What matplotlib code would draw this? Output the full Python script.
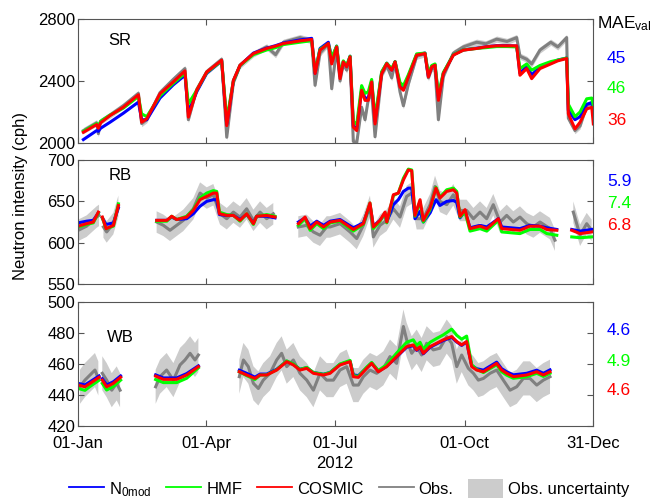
import numpy as np
import matplotlib
matplotlib.use("Agg")
import matplotlib.pyplot as plt
from matplotlib.lines import Line2D
from matplotlib.patches import Patch

plt.rcParams['font.family'] = ['Liberation Sans', 'DejaVu Sans']
plt.rcParams['mathtext.default'] = 'regular'
plt.rcParams['font.size'] = 12

nan = np.nan

# x values are day of year 2012 (0 = 01-Jan); nan marks a data gap
# ---- SR ----
sr_day = [3.8, 13.2, 14.4, 16.0, 22.7, 32.1, 42.8, 45.1, 48.7, 58.1, 67.5, 75.8, 78.2, 84.1, 91.2,
          101.8, 105.4, 110.1, 114.8, 124.3, 133.7, 140.0, 145.5, 157.3, 165.6, 168.0, 171.5, 177.4,
          179.8, 183.3, 185.7, 188.0, 190.4, 192.8, 195.1, 197.5, 201.0, 203.4, 205.7, 208.1, 210.5,
          215.2, 218.8, 222.3, 224.7, 228.2, 230.6, 234.1, 240.0, 245.9, 248.3, 250.7, 253.0, 255.4,
          258.9, 266.0, 273.1, 282.5, 289.0, 296.7, 304.0, 310.9, 313.2, 318.0, 321.5, 327.4, 335.0,
          340.0, 346.3, 347.5, 352.2, 355.8, 360.5, 364.1, 365.2]
sr_cosmic = [2069, 2119, 2095, 2130, 2177, 2231, 2311, 2134, 2156, 2318, 2394, 2465, 2167, 2340, 2458,
             2534, 2112, 2404, 2502, 2577, 2610, 2625, 2642, 2659, 2668, 2448, 2599, 2642, 2510, 2620,
             2415, 2523, 2491, 2556, 2102, 2080, 2340, 2275, 2275, 2394, 2123, 2448, 2512, 2469, 2523,
             2361, 2340, 2426, 2567, 2577, 2426, 2491, 2502, 2275, 2448, 2567, 2599, 2610, 2620, 2627,
             2627, 2627, 2437, 2480, 2415, 2480, 2510, 2530, 2545, 2188, 2091, 2134, 2220, 2230, 2123]
sr_hmf = [2075, 2125, 2110, 2140, 2180, 2225, 2300, 2188, 2170, 2305, 2385, 2450, 2253, 2340, 2455,
          2530, 2150, 2400, 2500, 2570, 2600, 2615, 2635, 2650, 2660, 2460, 2605, 2640, 2550, 2625,
          2440, 2530, 2500, 2560, 2140, 2120, 2370, 2320, 2330, 2410, 2160, 2460, 2515, 2480, 2525,
          2390, 2370, 2440, 2575, 2580, 2450, 2500, 2510, 2310, 2455, 2570, 2600, 2610, 2615, 2622,
          2622, 2620, 2480, 2510, 2470, 2500, 2525, 2535, 2548, 2250, 2170, 2200, 2285, 2290, 2240]
sr_n0mod = [2022, 2080, 2075, 2095, 2134, 2192, 2264, 2150, 2150, 2290, 2375, 2437, 2200, 2330, 2450,
            2530, 2120, 2400, 2500, 2580, 2612, 2628, 2645, 2665, 2675, 2450, 2610, 2650, 2545, 2625,
            2430, 2525, 2495, 2560, 2110, 2090, 2345, 2290, 2290, 2400, 2140, 2455, 2515, 2470, 2525,
            2370, 2345, 2430, 2570, 2580, 2430, 2495, 2505, 2290, 2450, 2570, 2600, 2612, 2620, 2628,
            2628, 2625, 2450, 2495, 2440, 2490, 2515, 2535, 2548, 2210, 2150, 2170, 2250, 2260, 2200]
sr_obs = [2080, 2130, 2060, 2140, 2180, 2240, 2320, 2125, 2150, 2325, 2410, 2480, 2150, 2345, 2460,
          2540, 2037, 2390, 2500, 2575, 2620, 2570, 2650, 2680, 2660, 2372, 2580, 2640, 2350, 2615,
          2400, 2510, 2470, 2540, 2010, 2000, 2230, 2150, 2280, 2330, 2040, 2440, 2500, 2420, 2520,
          2330, 2240, 2380, 2560, 2575, 2420, 2480, 2480, 2150, 2430, 2580, 2620, 2650, 2640, 2670,
          2655, 2680, 2560, 2540, 2510, 2600, 2650, 2620, 2680, 2160, 2080, 2110, 2240, 2260, 2200]
sr_obs_day = sr_day
sr_unc = 20

# ---- RB ----
rb_day = [0, 6.1, 10.8, 14.4, 16, 17.2, 19.9, 25.1, 28.6, 40, 55.8, 62.9, 66.4, 69.9, 77.0, 81.7,
          86.4, 91.2, 95.9, 98.3, 100.2, 105.4, 110.1, 114.8, 119.5, 124.3, 126.6, 133.7, 139.6, 148,
          156.2, 160.9, 164.5, 169.2, 174.0, 178.7, 185.7, 195.1, 202.2, 206.9, 209.3, 214.0, 217.6,
          218.8, 223.5, 227.0, 230.6, 234.1, 236.5, 238.8, 242.4, 244.7, 249.5, 253.7, 256.5, 261.3,
          266.0, 268.4, 270.7, 274.3, 277.8, 284.9, 289.7, 297.9, 300.3, 313.2, 320.3, 327.4, 332.2,
          339.3, 345, 349.9, 355.8, 364.1]
rb_cosmic = [620, 623, 625, 637, nan, 631, 617, 621, 645, nan, 627, 627, 632, 628, 631, 639, 652, 656,
             660, 660, 635, 633, 633, 627, 635, 623, 632, 633, 631, nan, 623, 631, 617, 625, 619, 625,
             627, 616, 623, 648, 619, 627, 637, 625, 658, 660, 676, 688, 687, 633, 652, 627, 642, 666,
             654, 662, 664, 660, 632, 640, 617, 620, 617, 629, 617, 615, 620, 620, 616, 615, nan, 615,
             611, 613]
rb_hmf = [619, 622, 624, 636, nan, 630, 617, 620, 647, nan, 626, 626, 632, 628, 632, 640, 654, 660,
          663, 662, 637, 634, 633, 626, 635, 622, 632, 634, 632, nan, 621, 629, 615, 623, 617, 624,
          626, 614, 622, 648, 617, 626, 636, 624, 657, 660, 678, 689, 688, 632, 650, 625, 640, 667,
          655, 664, 666, 662, 631, 637, 614, 617, 614, 627, 613, 611, 616, 616, 611, 609, nan, 607,
          606, 607]
rb_n0mod = [624, 626, 627, 636, nan, 630, 622, 624, 642, nan, 627, 627, 631, 628, 629, 635, 644, 650,
            652, 652, 634, 633, 633, 628, 634, 624, 632, 632, 630, nan, 625, 630, 620, 626, 621, 626,
            628, 618, 624, 646, 620, 627, 635, 625, 646, 652, 662, 666, 666, 629, 638, 625, 636, 652,
            645, 650, 651, 649, 630, 638, 618, 621, 619, 629, 619, 617, 621, 620, 618, 616, nan, 616,
            614, 616]
rb_obs_day = [0.2, 6.1, 13.2, 14.9, 16, 18.0, 20.3, 25.0, 28.6, 40, 55.7, 60.5, 65.2, 69.9, 74.6, 81.7,
              86.5, 91.2, 95.9, 100.6, 105.4, 110.1, 114.8, 119.5, 124.3, 129.0, 133.7, 138.4, 148,
              156.1, 162.0, 166.8, 171.5, 176.2, 178.6, 185.7, 192.8, 197.5, 202.2, 206.9, 209.3,
              214.0, 218.7, 223.5, 228.2, 232.9, 236.5, 240.0, 244.7, 249.5, 253.0, 256.5, 261.3,
              266.0, 270.7, 275.4, 280.2, 284.9, 289.6, 294.3, 299.1, 303.8, 308.5, 313.2, 318.0,
              322.7, 327.4, 334.5, 338.0, 345, 351.0, 355.8, 360.5, 364.0]
rb_obs = [615, 620, 631, 633, nan, 619, 613, 623, 644, nan, 625, 621, 615, 621, 627, 641, 660, 654,
          658, 635, 629, 637, 631, 641, 627, 637, 629, 635, nan, 619, 621, 613, 609, 619, 619, 623,
          613, 605, 621, 644, 607, 621, 627, 641, 631, 656, 660, 629, 629, 646, 668, 650, 646, 658,
          639, 639, 629, 637, 629, 646, 625, 633, 625, 631, 623, 619, 625, 617, 603, nan, 637, 609,
          623, 615]
rb_unc = 13

# ---- WB ----
wb_day = [0.2, 4.9, 8.5, 14.9, 16, 17.2, 20.3, 25.0, 30.2, 40, 55.0, 60.5, 69.9, 77.0, 85.3, 100,
          114.3, 119.5, 125.4, 129.0, 133.7, 140.8, 147.9, 152.6, 157.3, 162.1, 166.8, 173.9, 178.6,
          185.7, 192.8, 195.1, 198.7, 204.6, 208.1, 212.8, 218.7, 225.8, 232.9, 237.6, 240.0, 242.4,
          244.7, 249.5, 254.2, 258.9, 264.8, 268.4, 271.9, 275.4, 279.0, 282.5, 287.3, 296.7, 300.2,
          303.8, 308.5, 318.0, 325.1, 329.8, 334.5]
wb_cosmic = [446.4, 445.3, 447.5, 451.4, nan, 449.6, 445.3, 447.5, 451.4, nan, 452.2, 450.1, 450.1,
             452.9, 458.3, nan, 455.0, 452.9, 450.7, 452.9, 452.9, 456.1, 461.5, 459.4, 456.1, 457.2,
             454.0, 452.9, 454.0, 459.4, 461.5, 451.8, 451.4, 457.2, 460.4, 455.0, 458.3, 464.8,
             471.2, 472.3, 469.1, 471.2, 466.9, 471.2, 473.4, 475.6, 477.7, 474.5, 472.3, 474.5,
             458.3, 456.1, 455.0, 460.4, 456.1, 454.0, 451.8, 452.9, 455.0, 452.9, 455.0]
wb_hmf = [444.2, 443.0, 445.5, 449.5, nan, 447.5, 443.2, 445.5, 449.6, nan, 450.0, 448.0, 448.0,
          450.8, 457.5, nan, 455.0, 452.5, 450.0, 452.8, 453.0, 456.3, 462.0, 460.0, 456.5, 457.8,
          454.5, 453.3, 454.5, 460.0, 462.3, 452.5, 452.0, 458.0, 461.0, 455.8, 459.5, 467.0, 474.0,
          475.6, 472.0, 474.0, 469.5, 474.0, 476.5, 478.8, 482.5, 478.5, 476.0, 478.0, 459.5, 456.5,
          454.5, 459.5, 455.0, 452.8, 450.8, 451.8, 454.0, 452.0, 454.0]
wb_n0mod = [447.5, 446.5, 448.5, 452.3, nan, 450.5, 446.5, 448.5, 452.3, nan, 453.0, 451.0, 451.0,
            453.8, 458.8, nan, 456.0, 454.0, 451.5, 453.5, 453.5, 456.6, 461.8, 459.8, 456.6, 457.6,
            454.5, 453.4, 454.5, 459.8, 461.8, 453.0, 452.5, 457.6, 460.6, 455.4, 458.5, 464.6,
            470.8, 471.8, 468.8, 470.8, 466.6, 470.8, 473.0, 475.2, 477.2, 474.2, 472.0, 474.2,
            459.0, 457.0, 456.0, 461.2, 457.0, 455.0, 453.0, 454.0, 456.0, 454.0, 456.2]
wb_obs_day = [1.4, 4.9, 8.5, 12.0, 14.4, 16, 17.2, 20.3, 23.9, 27.4, 29.8, 40, 55.0, 58.1, 62.8, 67.6,
              72.3, 75.8, 79.4, 82.9, 85.3, 100, 114.3, 117.2, 120.7, 124.3, 127.8, 131.3, 136.1,
              140.8, 144.3, 147.9, 152.6, 157.3, 162.1, 166.8, 171.5, 176.2, 181.0, 185.7, 190.4,
              195.1, 198.7, 202.2, 206.9, 211.7, 216.4, 221.1, 225.8, 230.6, 232.9, 236.5, 240.0,
              243.5, 247.1, 251.8, 256.5, 261.3, 264.8, 268.4, 271.9, 276.6, 280.2, 283.7, 287.3,
              292.0, 296.7, 301.4, 306.2, 310.9, 315.6, 320.3, 325.1, 329.8, 334.5]
wb_obs = [445.3, 449.6, 452.9, 456.1, 450.7, nan, 454.0, 449.6, 443.1, 447.5, 443.1, nan, 445.3,
          451.8, 456.1, 449.6, 459.4, 462.6, 466.9, 462.6, 465.8, nan, 451.8, 462.6, 458.3, 447.5,
          444.2, 449.6, 454.0, 462.6, 466.9, 458.3, 462.6, 454.0, 449.6, 443.1, 454.0, 449.6, 449.6,
          456.1, 458.3, 446.4, 446.4, 451.8, 456.1, 454.0, 457.2, 464.8, 460.4, 484.2, 475.6, 466.9,
          471.2, 465.8, 473.4, 469.1, 470.2, 477.7, 473.4, 458.3, 465.8, 457.2, 454.0, 449.6, 450.7,
          454.0, 456.1, 449.6, 443.1, 445.3, 450.7, 450.7, 446.4, 449.6, 451.8]
wb_unc = 11

stations = ["SR", "RB", "WB"]
mae_n0mod = ["45", "5.9", "4.6"]
mae_hmf = ["46", "7.4", "4.9"]
mae_cosmic = ["36", "6.8", "4.6"]

tick_days = [0, 91, 182, 274, 365]
tick_labels = ["01-Jan", "01-Apr", "01-Jul", "01-Oct", "31-Dec"]

c_blue, c_green, c_red = (0, 0, 1), (0, 1, 0), (1, 0, 0)
c_obs, c_unc = (0.5, 0.5, 0.5), (0.8, 0.8, 0.8)
edge = '#555555'

fig = plt.figure(figsize=(6.54, 5.01), dpi=100)
ax_pos = [[0.1193, 0.7146, 0.7875, 0.2475],
          [0.1193, 0.4331, 0.7875, 0.2475],
          [0.1193, 0.1497, 0.7875, 0.2475]]
axes = [fig.add_axes(p) for p in ax_pos]

panels = [
    (sr_day, sr_n0mod, sr_hmf, sr_cosmic, sr_obs_day, sr_obs, sr_unc, (2000, 2800), [2000, 2400, 2800]),
    (rb_day, rb_n0mod, rb_hmf, rb_cosmic, rb_obs_day, rb_obs, rb_unc, (550, 700), [550, 600, 650, 700]),
    (wb_day, wb_n0mod, wb_hmf, wb_cosmic, wb_obs_day, wb_obs, wb_unc, (420, 500), [420, 440, 460, 480, 500]),
]
label_pos = [(0.082, 0.823), (0.082, 0.879), (0.083, 0.71)]

for i, (ax, p) in enumerate(zip(axes, panels)):
    day, n0, hmf, cos, oday, obs, unc, ylim, yt = p
    obs = np.array(obs, dtype=float)
    ax.fill_between(oday, obs - unc, obs + unc, color=c_unc, lw=0)
    ax.plot(oday, obs, color=c_obs, lw=2.2)
    ax.plot(day, n0, color=c_blue, lw=2.2)
    ax.plot(day, hmf, color=c_green, lw=2.2)
    ax.plot(day, cos, color=c_red, lw=2.2)
    ax.set_xlim(0, 365)
    ax.set_ylim(*ylim)
    ax.set_yticks(yt)
    ax.set_xticks(tick_days)
    if i < 2:
        ax.set_xticklabels([])
    else:
        ax.set_xticklabels(tick_labels)
    ax.tick_params(direction='in', top=True, right=True, length=4, width=0.8,
                   color=edge, labelsize=12, pad=2)
    ax.tick_params(axis='x', pad=7)
    for s in ax.spines.values():
        s.set_color(edge)
        s.set_linewidth(0.8)
    ax.text(label_pos[i][0], label_pos[i][1], stations[i], transform=ax.transAxes,
            ha='center', va='center', fontsize=12)

fig.text(0.913, 0.952, r'MAE$_{val}$', fontsize=12.5, ha='left', va='center')
mae_y = [(0.884, 0.824, 0.760), (0.637, 0.593, 0.549), (0.341, 0.279, 0.220)]
for i in range(3):
    fig.text(0.928, mae_y[i][0], mae_n0mod[i], color=c_blue, fontsize=12.5, va='center')
    fig.text(0.928, mae_y[i][1], mae_hmf[i], color=c_green, fontsize=12.5, va='center')
    fig.text(0.928, mae_y[i][2], mae_cosmic[i], color=c_red, fontsize=12.5, va='center')

fig.text(0.031, 0.609, 'Neutron intensity (cph)', rotation=90, ha='center', va='center', fontsize=12)
fig.text(0.512, 0.074, '2012', ha='center', va='center', fontsize=12)

handles = [Line2D([], [], color=c_blue, lw=1.3),
           Line2D([], [], color=c_green, lw=1.3),
           Line2D([], [], color=c_red, lw=1.3),
           Line2D([], [], color=c_obs, lw=1.3),
           Patch(facecolor=c_unc, edgecolor='none')]
labels = [r'N$_{0mod}$', 'HMF', 'COSMIC', 'Obs.', 'Obs. uncertainty']
fig.legend(handles, labels, loc='center', bbox_to_anchor=(0.534, 0.024), ncol=5, frameon=False,
           fontsize=12, handlelength=2.1, handleheight=1.4, handletextpad=0.3, columnspacing=0.9,
           borderpad=0, borderaxespad=0)

fig.savefig('out.png', dpi=100)
